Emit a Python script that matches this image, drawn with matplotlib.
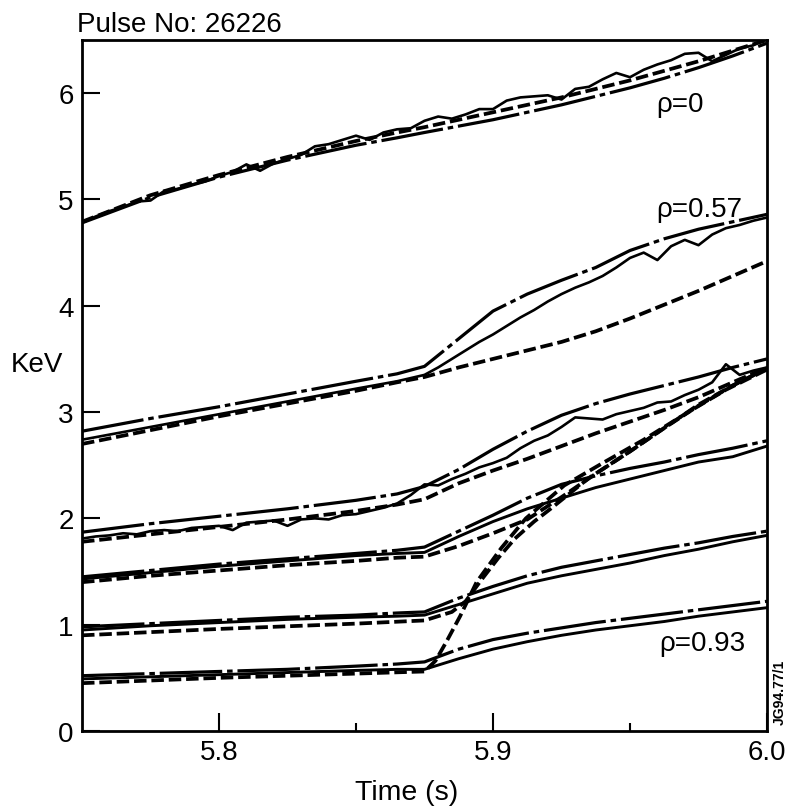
import numpy as np
import matplotlib
matplotlib.use('Agg')
import matplotlib.pyplot as plt

plt.rcParams['font.family'] = ['Liberation Sans', 'DejaVu Sans']
plt.rcParams['lines.scale_dashes'] = False

# common time grid for the smooth curves (s)
t = [5.75, 5.775, 5.8, 5.825, 5.85, 5.865, 5.875, 5.8875, 5.9, 5.9125,
     5.925, 5.9375, 5.95, 5.9625, 5.975, 5.9875, 6.0]
# time grid for the noisy measured traces
t_fine = np.round(np.arange(5.75, 6.0001, 0.005), 3)

# rho = 0
r0_dashdot = [4.78, 5.02, 5.21, 5.37, 5.51, 5.58, 5.63, 5.69, 5.75, 5.82,
              5.89, 5.97, 6.05, 6.14, 6.24, 6.35, 6.47]
r0_dashed = [4.79, 5.04, 5.23, 5.40, 5.55, 5.63, 5.68, 5.75, 5.82, 5.89,
             5.96, 6.04, 6.12, 6.21, 6.30, 6.40, 6.50]
r0_meas = [4.78, 4.84, 4.89, 4.93, 4.98, 4.99, 5.08, 5.10, 5.14, 5.17,
           5.22, 5.26, 5.33, 5.27, 5.34, 5.38, 5.42, 5.50, 5.52, 5.56,
           5.60, 5.56, 5.63, 5.66, 5.67, 5.74, 5.78, 5.76, 5.80, 5.85,
           5.85, 5.93, 5.96, 5.97, 5.98, 5.94, 6.04, 6.06, 6.13, 6.19,
           6.15, 6.22, 6.27, 6.31, 6.37, 6.38, 6.30, 6.36, 6.42, 6.45, 6.52]

# rho = 0.57
r57_dashdot = [2.82, 2.94, 3.05, 3.17, 3.29, 3.36, 3.43, 3.69, 3.95, 4.11,
               4.24, 4.36, 4.52, 4.63, 4.72, 4.79, 4.86]
r57_dashed = [2.70, 2.83, 2.96, 3.08, 3.20, 3.28, 3.33, 3.42, 3.50, 3.58,
              3.66, 3.76, 3.88, 4.01, 4.14, 4.28, 4.42]
r57_meas_t = [5.75, 5.775, 5.8, 5.825, 5.85, 5.865, 5.875, 5.88, 5.885, 5.89,
              5.895, 5.9, 5.905, 5.91, 5.915, 5.92, 5.925, 5.93, 5.935, 5.94,
              5.945, 5.95, 5.955, 5.96, 5.965, 5.97, 5.975, 5.98, 5.985, 5.99,
              5.995, 6.0]
r57_meas = [2.74, 2.86, 2.98, 3.10, 3.22, 3.29, 3.35, 3.42, 3.50, 3.58,
            3.66, 3.73, 3.81, 3.89, 3.96, 4.04, 4.11, 4.17, 4.22, 4.28,
            4.36, 4.45, 4.50, 4.43, 4.56, 4.62, 4.57, 4.67, 4.73, 4.76,
            4.80, 4.83]

# third radius
r3_dashdot = [1.87, 1.95, 2.02, 2.09, 2.17, 2.23, 2.30, 2.46, 2.65, 2.82,
              2.97, 3.08, 3.17, 3.25, 3.33, 3.42, 3.50]
r3_dashed = [1.78, 1.85, 1.92, 1.99, 2.07, 2.13, 2.18, 2.33, 2.45, 2.56,
             2.68, 2.80, 2.91, 3.02, 3.14, 3.28, 3.42]
r3_meas = [1.81, 1.83, 1.84, 1.86, 1.85, 1.88, 1.89, 1.88, 1.91, 1.92,
           1.93, 1.89, 1.96, 1.97, 1.98, 1.93, 1.99, 2.00, 1.99, 2.03,
           2.04, 2.07, 2.10, 2.14, 2.22, 2.32, 2.31, 2.37, 2.42, 2.48,
           2.52, 2.57, 2.66, 2.73, 2.78, 2.86, 2.95, 2.94, 2.93, 2.98,
           3.01, 3.04, 3.09, 3.10, 3.16, 3.21, 3.28, 3.45, 3.35, 3.39, 3.42]

# fourth radius
r4_dashdot = [1.45, 1.51, 1.57, 1.62, 1.67, 1.70, 1.73, 1.88, 2.03, 2.19,
              2.32, 2.40, 2.47, 2.53, 2.60, 2.66, 2.73]
r4_meas = [1.43, 1.49, 1.55, 1.60, 1.65, 1.67, 1.68, 1.83, 1.97, 2.09,
           2.19, 2.29, 2.37, 2.45, 2.53, 2.58, 2.68]
r4_dashed = [1.40, 1.46, 1.51, 1.56, 1.60, 1.63, 1.64, 1.74, 1.86, 1.99,
             2.20, 2.42, 2.63, 2.85, 3.07, 3.25, 3.41]

# fifth radius
r5_dashdot = [0.98, 1.01, 1.04, 1.07, 1.09, 1.11, 1.12, 1.25, 1.36, 1.46,
              1.54, 1.60, 1.66, 1.72, 1.77, 1.83, 1.88]
r5_meas = [0.95, 0.99, 1.02, 1.05, 1.07, 1.08, 1.09, 1.19, 1.29, 1.39,
           1.46, 1.52, 1.58, 1.65, 1.71, 1.78, 1.84]
r5_dashed_t = [5.75, 5.8, 5.85, 5.875, 5.885, 5.89, 5.896, 5.902, 5.908,
               5.915, 5.921, 5.935, 5.95, 5.9625, 5.975, 5.9875, 6.0]
r5_dashed = [0.90, 0.96, 1.01, 1.04, 1.12, 1.22, 1.43, 1.63, 1.81,
             1.97, 2.09, 2.38, 2.63, 2.85, 3.06, 3.25, 3.41]

# rho = 0.93
r93_dashdot = [0.52, 0.54, 0.56, 0.58, 0.61, 0.63, 0.65, 0.77, 0.86, 0.92,
               0.97, 1.02, 1.06, 1.10, 1.14, 1.18, 1.22]
r93_meas = [0.49, 0.51, 0.53, 0.55, 0.57, 0.58, 0.58, 0.68, 0.77, 0.84,
            0.90, 0.95, 0.99, 1.03, 1.08, 1.12, 1.16]
r93_dashed_t = [5.75, 5.8, 5.85, 5.875, 5.879, 5.883, 5.888, 5.894, 5.903,
                5.912, 5.926, 5.94, 5.955, 5.97, 5.985, 6.0]
r93_dashed = [0.45, 0.50, 0.54, 0.56, 0.66, 0.84, 1.08, 1.40, 1.72,
              2.00, 2.31, 2.52, 2.74, 2.98, 3.21, 3.40]

DASHED = (0, (9, 3.5))
DASHDOT = (0, (45, 3.5, 4, 3.5))
LW = 2.3

fig = plt.figure(figsize=(7.92, 8.12), dpi=100)
ax = fig.add_axes([82 / 792, 80 / 812, 685 / 792, 691 / 812])

# model curves (dash-dot) and (dashed)
for y in [r0_dashdot, r57_dashdot, r3_dashdot, r4_dashdot, r5_dashdot, r93_dashdot]:
    ax.plot(t, y, color='black', lw=LW, ls=DASHDOT)
for y in [r0_dashed, r57_dashed, r3_dashed, r4_dashed]:
    ax.plot(t, y, color='black', lw=LW + 0.4, ls=DASHED)
ax.plot(r5_dashed_t, r5_dashed, color='black', lw=LW + 0.4, ls=DASHED)
ax.plot(r93_dashed_t, r93_dashed, color='black', lw=LW + 0.4, ls=DASHED)

# measurements
ax.plot(t_fine, r0_meas, color='black', lw=1.9)
ax.plot(r57_meas_t, r57_meas, color='black', lw=1.9)
ax.plot(t_fine, r3_meas, color='black', lw=1.9)
for y in [r4_meas, r5_meas, r93_meas]:
    ax.plot(t, y, color='black', lw=2.1)

ax.set_xlim(5.75, 6.0)
ax.set_ylim(0, 6.5)
ax.set_xticks([5.8, 5.9, 6.0])
ax.set_xticklabels(['5.8', '5.9', '6.0'])
ax.set_xticks([5.85, 5.95], minor=True)
ax.set_yticks([0, 1, 2, 3, 4, 5, 6])
ax.tick_params(axis='both', which='major', direction='in', length=13, width=1.5,
               labelsize=20, pad=6, top=False, right=False)
ax.tick_params(axis='x', which='minor', direction='in', length=6, width=1.5, top=False)
for s in ax.spines.values():
    s.set_linewidth(2.0)

ax.text(5.9596, 5.90, 'ρ=0', fontsize=20, va='center')
ax.text(5.9596, 4.91, 'ρ=0.57', fontsize=20, va='center')
ax.text(5.9607, 0.83, 'ρ=0.93', fontsize=20, va='center')

fig.text(77 / 792, 1 - 32 / 812, 'Pulse No: 26226', fontsize=20, va='baseline')
fig.text(37 / 792, 1 - 365 / 812, 'KeV', fontsize=20, ha='center', va='center')
fig.text(407 / 792, 1 - 793 / 812, 'Time (s)', fontsize=20.5, ha='center', va='center')
fig.text(780 / 792, 1 - 692 / 812, 'JG94.77/1', rotation=90, fontsize=10,
         ha='center', va='center', fontweight='bold')

fig.savefig('out.png', dpi=100)
